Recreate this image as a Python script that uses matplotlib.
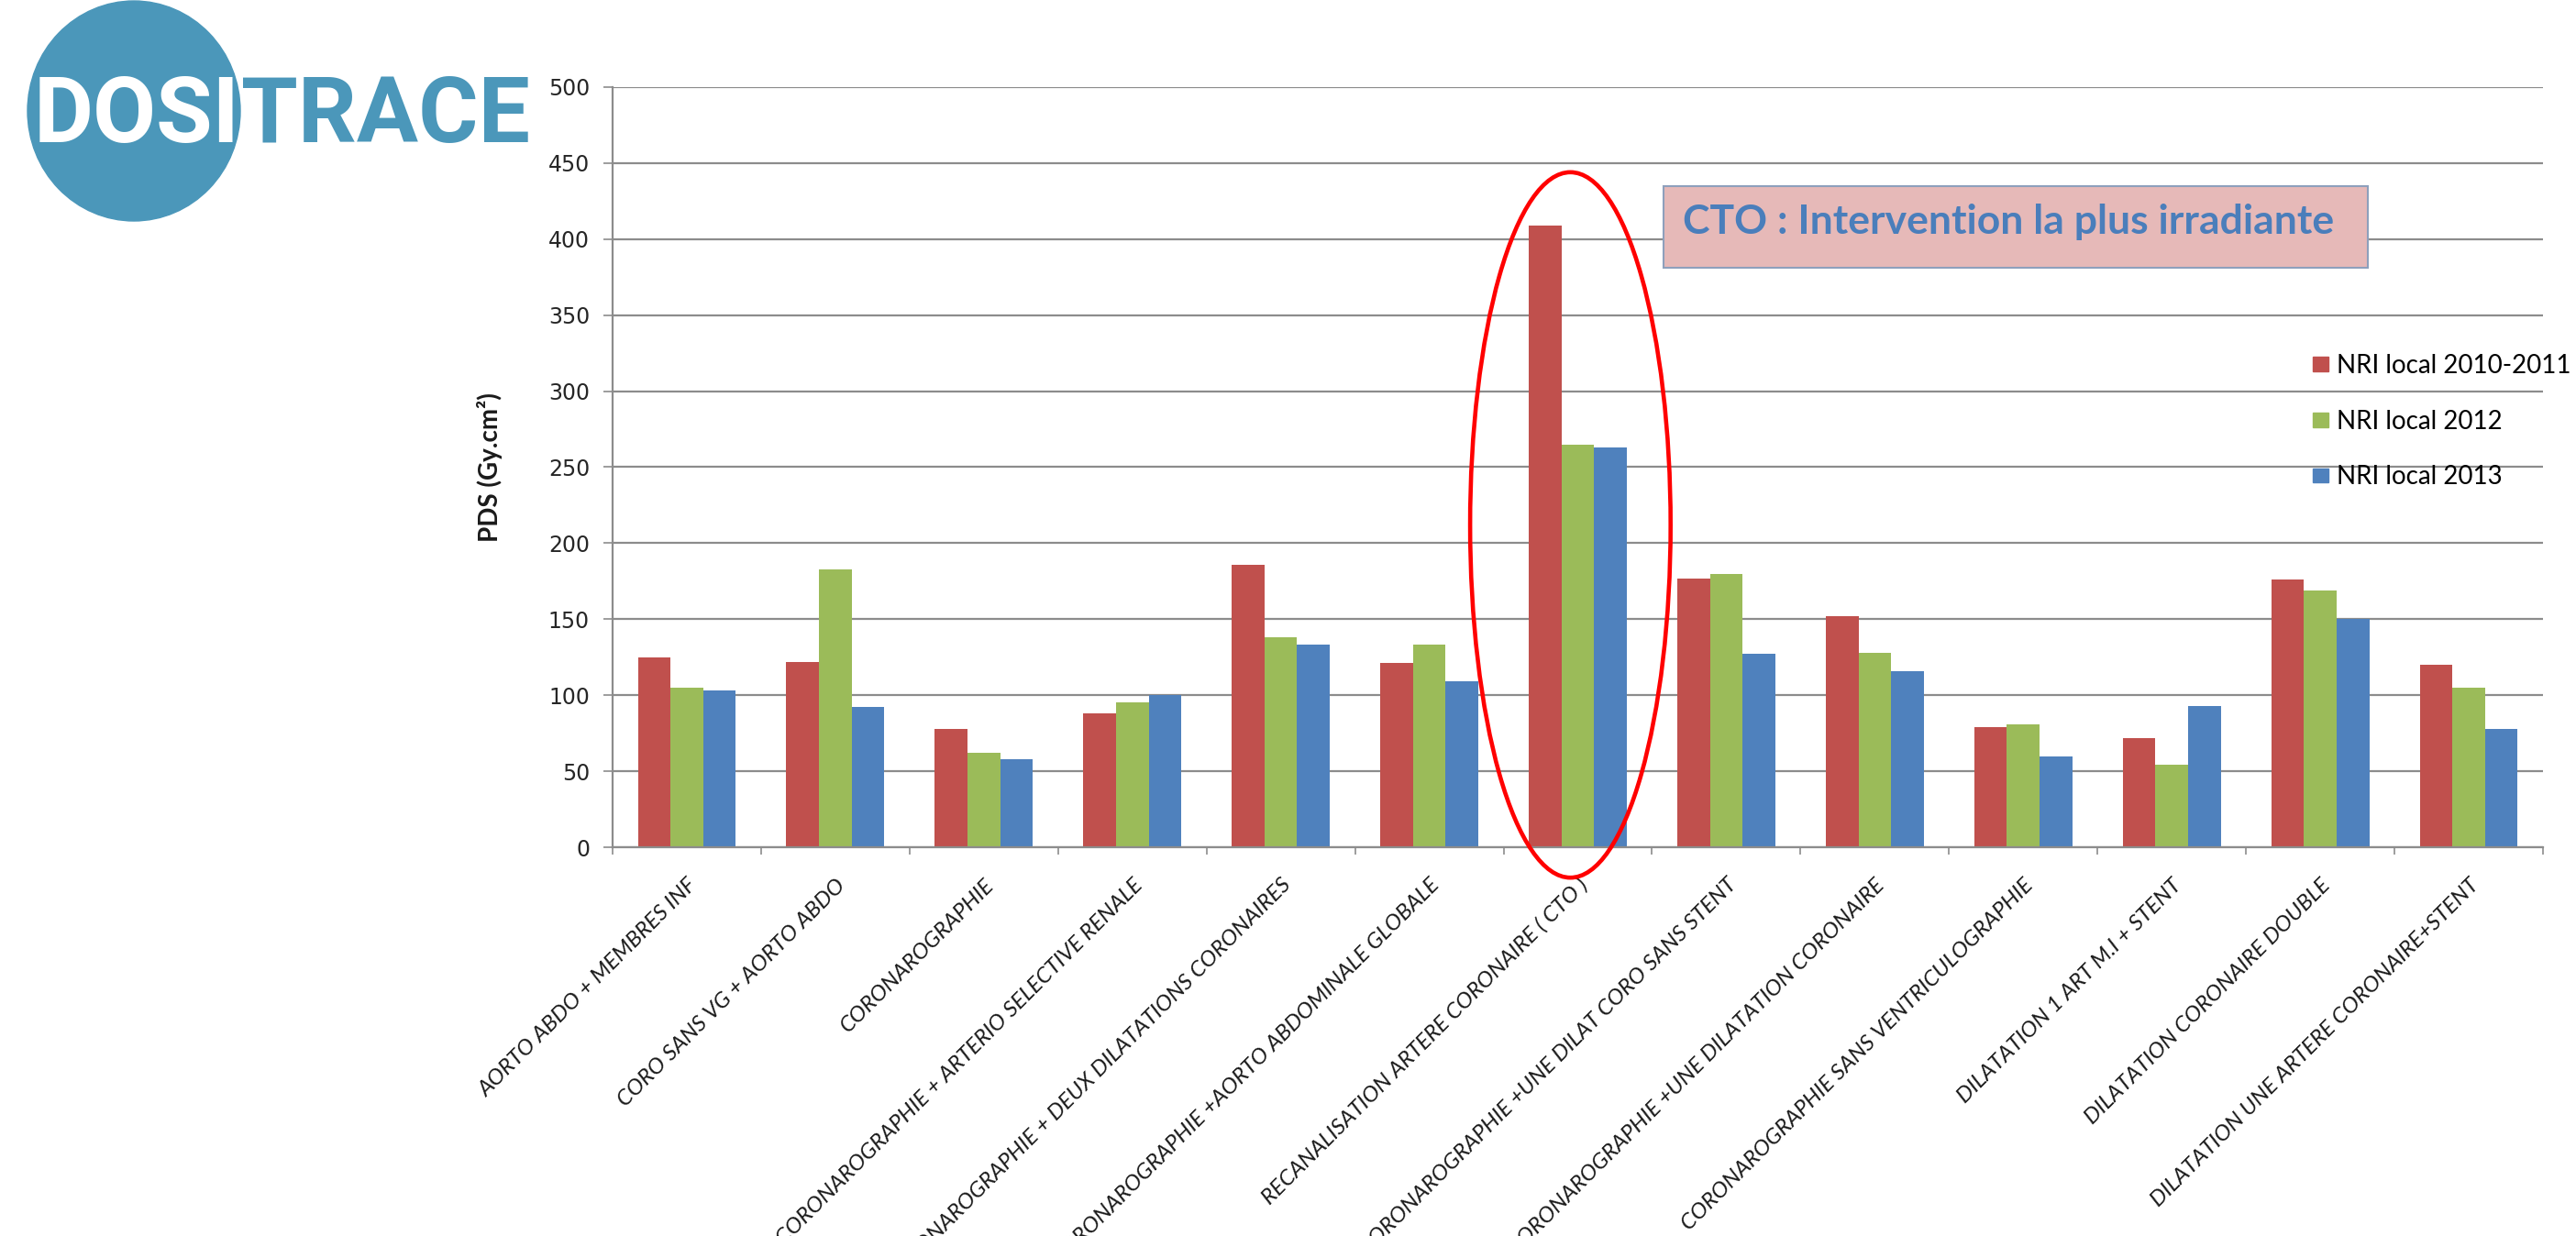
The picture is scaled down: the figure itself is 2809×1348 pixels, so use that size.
import numpy as np
import matplotlib
matplotlib.use("Agg")
import matplotlib.pyplot as plt
from matplotlib.patches import Ellipse, Rectangle, Patch

# --- data ---
categories = [
    "AORTO ABDO + MEMBRES INF",
    "CORO SANS VG + AORTO ABDO",
    "CORONAROGRAPHIE",
    "CORONAROGRAPHIE + ARTERIO SELECTIVE RENALE",
    "CORONAROGRAPHIE + DEUX DILATATIONS CORONAIRES",
    "CORONAROGRAPHIE +AORTO ABDOMINALE GLOBALE",
    "RECANALISATION ARTERE CORONAIRE ( CTO )",
    "CORONAROGRAPHIE +UNE DILAT CORO SANS STENT",
    "CORONAROGRAPHIE +UNE DILATATION CORONAIRE",
    "CORONAROGRAPHIE SANS VENTRICULOGRAPHIE",
    "DILATATION 1 ART M.I + STENT",
    "DILATATION CORONAIRE DOUBLE",
    "DILATATION UNE ARTERE CORONAIRE+STENT",
]
series_labels = ["NRI local 2010-2011", "NRI local 2012", "NRI local 2013"]
nri_2010_2011 = [125, 122, 78, 88, 186, 121, 409, 177, 152, 79, 72, 176, 120]
nri_2012 = [105, 183, 62, 95, 138, 133, 265, 180, 128, 81, 54, 169, 105]
nri_2013 = [103, 92, 58, 100, 133, 109, 263, 127, 116, 60, 93, 150, 78]
y_ticks = list(range(0, 501, 50))

annotation = "CTO : Intervention la plus irradiante"
y_label = "PDS (Gy.cm²)"

COLORS = ["#C0504D", "#9BBB59", "#4F81BD"]
GRID = "#8C8C8C"
LOGO_BLUE = "#4B97BA"
SANS = ["Lato", "DejaVu Sans"]

W, H = 2809, 1348
fig = plt.figure(figsize=(W / 100, H / 100), dpi=100)
ax = fig.add_axes([668 / W, 1 - 924 / H, (2773 - 668) / W, (924 - 95) / H])

# --- bars ---
x = np.arange(len(categories))
bw = 0.22
series = [nri_2010_2011, nri_2012, nri_2013]
for k, (vals, col, lab) in enumerate(zip(series, COLORS, series_labels)):
    ax.bar(x + (k - 1) * bw, vals, width=bw, color=col, label=lab, zorder=2)

ax.set_xlim(-0.5, len(categories) - 0.5)
ax.set_ylim(0, 500)
ax.set_yticks(y_ticks)
ax.yaxis.grid(True, color=GRID, lw=1.6)
ax.set_axisbelow(True)
for s in ("top", "right"):
    ax.spines[s].set_visible(False)
for s in ("left", "bottom"):
    ax.spines[s].set_color(GRID)
    ax.spines[s].set_linewidth(1.6)

ax.tick_params(axis="y", length=7, width=1.2, color=GRID, pad=11,
               labelsize=17, labelcolor="#262626")
ax.set_xticks(x)
ax.set_xticklabels(categories, rotation=45, ha="right", va="top",
                   rotation_mode="anchor", fontsize=17.5, fontstyle="italic",
                   family=SANS, color="#1a1a1a")
ax.tick_params(axis="x", which="major", length=0, pad=22)
ax.set_xticks(np.arange(-0.5, len(categories)), minor=True)
ax.tick_params(axis="x", which="minor", length=6, width=1.2, color=GRID)

ax.set_ylabel(y_label, family=SANS, fontweight="bold", fontsize=20, color="#1a1a1a")
ax.yaxis.set_label_coords(-0.057, 0.5)

# --- annotation box + ellipse round the CTO group ---
ax.add_patch(Rectangle((6.58, 381), 4.74, 54, facecolor="#E6B9B8",
                       edgecolor="#8EA0BC", lw=1.5, zorder=4))
ax.text(6.71, 403.4, annotation, family=SANS, fontweight="bold", fontsize=32,
        color="#4A7EBB", va="baseline", zorder=5)
ax.add_patch(Ellipse((5.95, 212), 1.35, 464, fill=False, edgecolor="#FF0000",
                     lw=3.3, zorder=6, clip_on=False))

# --- legend ---
handles = [Patch(color=c) for c in COLORS]
fig.legend(handles, series_labels, loc="upper left",
           bbox_to_anchor=(2522 / W, 1 - 386 / H), frameon=False,
           prop={"family": SANS, "size": 20},
           handlelength=0.6, handleheight=0.5, handletextpad=0.35,
           labelspacing=1.25, borderpad=0, borderaxespad=0)

# --- logo ---
fig.add_artist(Ellipse((146 / W, 1 - 121 / H), 232 / W, 240 / H,
                       transform=fig.transFigure, color=LOGO_BLUE))
fig.text(261 / W, 1 - 155 / H, "DOSI", ha="right", va="baseline", color="white",
         family=["Roboto", "DejaVu Sans"], weight="bold", size=72)
fig.text(263 / W, 1 - 155 / H, "TRACE", ha="left", va="baseline", color=LOGO_BLUE,
         family=["Roboto", "DejaVu Sans"], weight="bold", size=72)

fig.savefig("out.png", dpi=100)
